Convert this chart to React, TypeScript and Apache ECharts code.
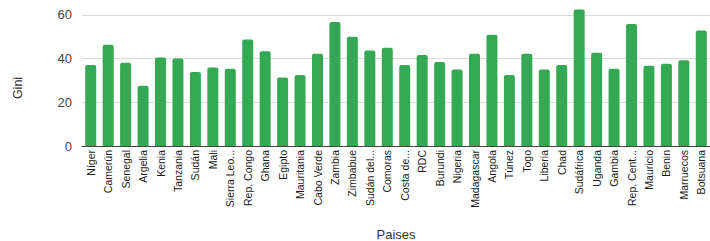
import React, { useEffect, useRef } from "react";
import * as echarts from "echarts";

const categories = [
  "Níger", "Camerún", "Senegal", "Argelia", "Kenia", "Tanzania", "Sudán", "Mali",
  "Sierra Leo...", "Rep. Congo", "Ghana", "Egipto", "Mauritania", "Cabo Verde", "Zambia",
  "Zimbabue", "Sudán del...", "Comoras", "Costa de...", "RDC", "Burundi", "Nigeria",
  "Madagascar", "Angola", "Túnez", "Togo", "Liberia", "Chad", "Sudáfrica", "Uganda",
  "Gambia", "Rep. Cent...", "Mauricio", "Benin", "Marruecos", "Botsuana",
];

const giniValues = [
  37.1, 46.3, 38.1, 27.6, 40.5, 40.0, 33.9, 35.9,
  35.4, 48.8, 43.4, 31.3, 32.5, 42.2, 56.8,
  50.0, 43.7, 45.0, 37.1, 41.7, 38.4, 35.0,
  42.2, 50.9, 32.5, 42.2, 35.0, 37.1, 62.5, 42.7,
  35.4, 55.9, 36.7, 37.6, 39.3, 52.9,
];

const yTicks = [0, 20, 40, 60];

export default function App() {
  const ref = useRef<HTMLDivElement>(null);
  useEffect(() => {
    if (!ref.current) return;
    const chart = echarts.init(ref.current, undefined, { renderer: "svg" });
    chart.setOption({
      animation: false,
      grid: { left: 82, right: 0, top: 4, bottom: 95, outerBoundsMode: "none", containLabel: false },
      graphic: [
        {
          type: "text",
          x: 11,
          y: 88,
          rotation: Math.PI / 2,
          style: {
            text: "Gini",
            font: "12.5px 'Liberation Sans', Arial, sans-serif",
            fill: "#333",
            align: "center",
            verticalAlign: "top",
          },
        },
      ],
      xAxis: {
        type: "category",
        data: categories,
        name: "Paises",
        nameLocation: "middle",
        nameGap: 82,
        nameTextStyle: { fontSize: 13, color: "#333", fontFamily: "'Liberation Sans', Arial, sans-serif" },
        axisLine: { show: true, lineStyle: { color: "#444", width: 1 } },
        axisTick: { show: false },
        axisLabel: {
          interval: 0,
          rotate: 90,
          margin: 4,
          fontSize: 10.5,
          color: "#1a1a1a",
          fontFamily: "'Liberation Sans', Arial, sans-serif",
        },
      },
      yAxis: {
        type: "value",
        min: 0,
        max: 65,
        interval: 20,
        axisLine: { show: false },
        axisTick: { show: false },
        axisLabel: {
          showMaxLabel: false,
          margin: 10,
          fontSize: 13,
          color: "#444",
          fontFamily: "'Liberation Sans', Arial, sans-serif",
          formatter: (v: number) => (yTicks.includes(v) ? String(v) : ""),
        },
        splitLine: {
          show: true,
          lineStyle: { color: ["#dcdcdc", "#dcdcdc", "#dcdcdc", "#dcdcdc", "rgba(0,0,0,0)"], width: 1 },
        },
      },
      series: [
        {
          type: "bar",
          data: giniValues,
          barCategoryGap: "37%",
          itemStyle: { color: "#34a853", borderRadius: [2, 2, 0, 0] },
        },
      ],
    });
    return () => chart.dispose();
  }, []);
  return (
    <div
      ref={ref}
      style={{ position: "absolute", left: 0, top: 0, width: 710, height: 241 }}
    />
  );
}
